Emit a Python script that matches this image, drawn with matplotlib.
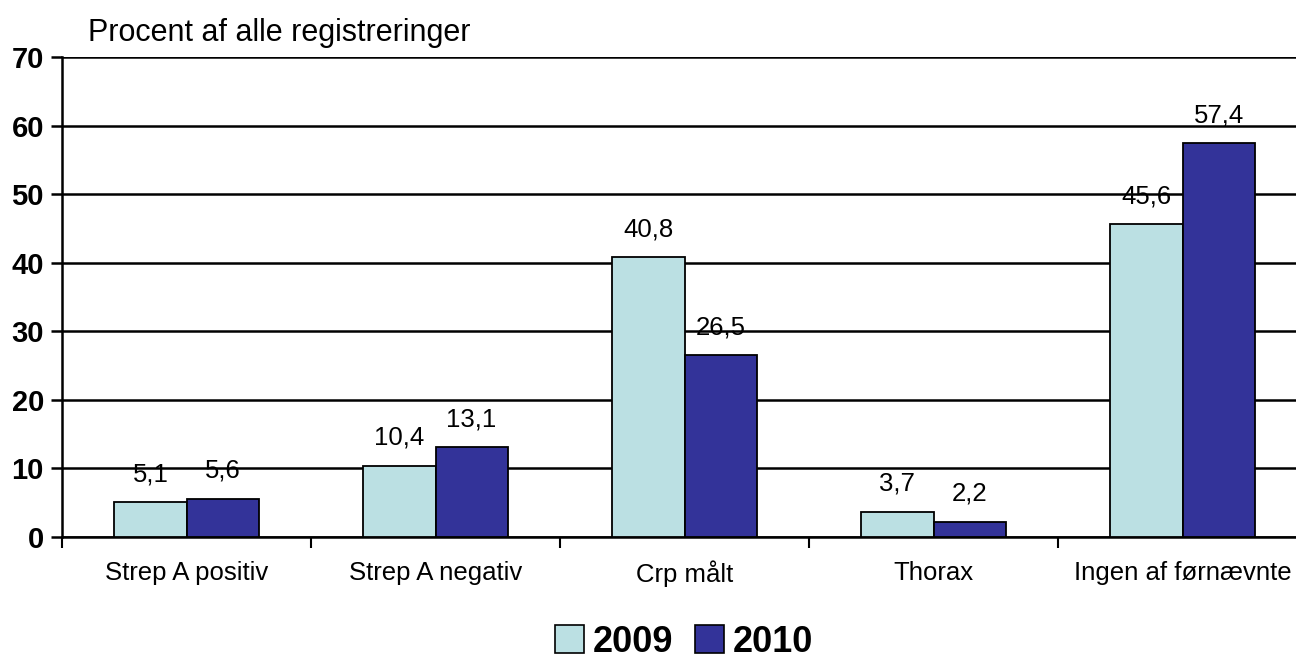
import matplotlib
matplotlib.use("Agg")
import matplotlib.pyplot as plt
import numpy as np
from matplotlib.patches import Patch

categories = ["Strep A positiv", "Strep A negativ", "Crp målt", "Thorax", "Ingen af førnævnte"]
series_names = ["2009", "2010"]
values_2009 = [5.1, 10.4, 40.8, 3.7, 45.6]
values_2010 = [5.6, 13.1, 26.5, 2.2, 57.4]
colors = ["#BBE0E3", "#333399"]
yticks = [0, 10, 20, 30, 40, 50, 60, 70]

plt.rcParams['font.family'] = ['Liberation Sans', 'DejaVu Sans']

W, H = 1296, 662
fig = plt.figure(figsize=(W / 100, H / 100), dpi=100)
left, right, top, bottom = 62, 1307, 57, 537
ax = fig.add_axes([left / W, (H - bottom) / H, (right - left) / W, (bottom - top) / H])

x = np.arange(len(categories))
bw = 0.29
for vals, off, c in [(values_2009, -bw / 2, colors[0]), (values_2010, bw / 2, colors[1])]:
    bars = ax.bar(x + off, vals, width=bw, color=c, edgecolor="black", linewidth=1.3, zorder=3)
    for b, v in zip(bars, vals):
        ax.annotate(f"{v:.1f}".replace(".", ","), (b.get_x() + b.get_width() / 2, v),
                    xytext=(0, 21), textcoords="offset pixels", ha="center", va="baseline",
                    fontsize=18.5, zorder=4)

ax.set_xlim(-0.5, len(categories) - 0.5)
ax.set_ylim(0, 70)
ax.set_yticks(yticks)
ax.set_yticklabels([str(t) for t in yticks], fontweight="bold", fontsize=21)
ax.yaxis.grid(True, color="black", linewidth=1.8, zorder=0)
ax.set_axisbelow(True)

ax.set_xticks(x)
ax.set_xticklabels(categories, fontsize=18.5)
ax.set_xticks(np.arange(len(categories)) - 0.5, minor=True)
ax.tick_params(axis="x", which="major", length=0, pad=17)
ax.tick_params(axis="x", which="minor", length=8, width=1.5, direction="out")
ax.tick_params(axis="y", length=8, width=1.8, pad=5)

for s in ["top", "right"]:
    ax.spines[s].set_visible(False)
ax.spines["left"].set_linewidth(1.8)
ax.spines["bottom"].set_linewidth(1.8)

fig.text(88 / W, 1 - 33 / H, "Procent af alle registreringer", fontsize=22, va="center", ha="left")

handles = [Patch(facecolor=colors[0], edgecolor="black", linewidth=1.2),
           Patch(facecolor=colors[1], edgecolor="black", linewidth=1.2)]
fig.legend(handles, series_names, loc="center", bbox_to_anchor=(684 / W, 1 - 642 / H),
           ncol=2, frameon=False, prop={"weight": "bold", "size": 26},
           handlelength=0.8, handleheight=0.8, handletextpad=0.25, columnspacing=0.6,
           borderpad=0.0)

fig.savefig("out.png", dpi=100)
